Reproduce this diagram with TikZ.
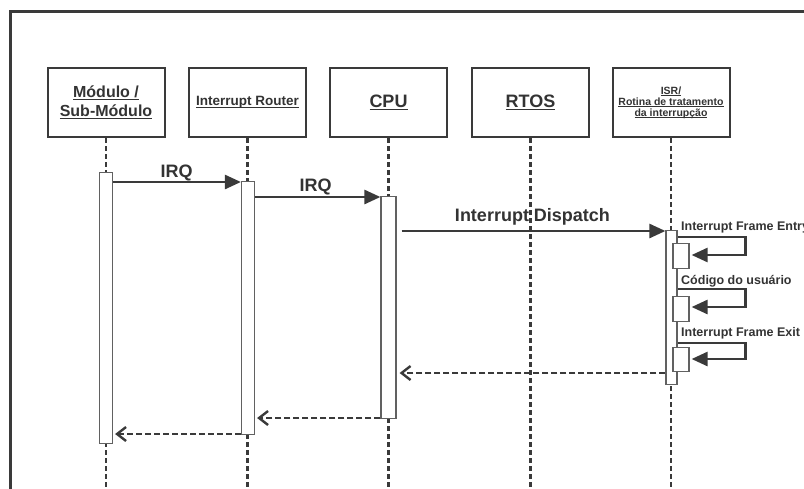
\documentclass[tikz,border=0pt]{standalone}
\usepackage{fontspec}
\setmainfont{Liberation Sans}
\usetikzlibrary{arrows.meta}
\definecolor{ink}{HTML}{3A3A3A}
\definecolor{txt}{HTML}{333333}
% underlined text with a rule a little heavier than \underline
\newcommand\headul[2][2.4pt]{\setbox0\hbox{#2}\leavevmode\rlap{\raisebox{-#1}{\rule{\wd0}{1pt}}}\box0}

\begin{document}
\begin{tikzpicture}[x=1pt,y=-1pt,
  head/.style={draw=ink, line width=2pt, fill=white, minimum width=117pt,
    minimum height=69pt, inner sep=0pt, text=txt, align=center},
  life/.style={draw=ink, line width=2.6pt, dash pattern=on 5pt off 3pt},
  act/.style={draw=ink!80, line width=1.2pt, fill=white, inner sep=0pt,
    minimum width=13pt, anchor=north},
  msg/.style={draw=ink, line width=2.6pt, -{Triangle[length=16pt,width=14pt]}},
  ret/.style={draw=ink, line width=2.4pt, dash pattern=on 6pt off 3pt,
    -{Straight Barb[length=9pt,width=14pt]}},
  lbl/.style={text=txt, inner sep=0pt},
  big/.style={font=\bfseries\fontsize{18}{20}\selectfont},
  mid/.style={font=\bfseries\fontsize{12.5}{14}\selectfont}
]
\useasboundingbox (0,0) rectangle (804,488);
\clip (0,0) rectangle (804,488);
\fill[white] (0,0) rectangle (804,488);

% outer frame (continues past the right and bottom edges)
\draw[ink, line width=2.4pt] (10.5,520) -- (10.5,11.5) -- (830,11.5);

% lifeline heads
\node[head, font=\bfseries\fontsize{16}{19}\selectfont] (mod) at (106,102.5)
  {\headul{Módulo /}\\\headul{Sub-Módulo}};
\node[head, font=\bfseries\fontsize{13.5}{16}\selectfont] (rtr) at (247.5,102.5)
  {\headul{Interrupt Router}};
\node[head, big] (cpu)  at (388.5,102.5) {\headul[2.8pt]{CPU}};
\node[head, big] (rtos) at (530.5,102.5) {\headul[2.8pt]{RTOS}};
\node[head, font=\bfseries\fontsize{10.5}{11}\selectfont] (isr) at (671,102.5)
  {\headul[1.8pt]{ISR/}\\\headul[1.8pt]{Rotina de tratamento}\\\headul[1.8pt]{da interrupção}};

% lifelines
\coordinate (bot) at (0,495);
\foreach \n in {mod,rtr,cpu,rtos,isr}
  \draw[life] (\n.south) -- (\n.south |- bot);

% activation bars
\node[act, minimum height=271pt] (amod) at (106,172) {};
\node[act, minimum height=253pt] (artr) at (248,181) {};
\node[act, minimum height=222pt, minimum width=15pt] (acpu) at (388.5,196) {};
\node[act, minimum height=154pt, minimum width=11pt] (aisr) at (671.5,230) {};
\node[act, minimum height=25pt, minimum width=16pt] (sub1) at (681,243) {};
\node[act, minimum height=25pt, minimum width=16pt] (sub2) at (681,296) {};
\node[act, minimum height=24pt, minimum width=16pt] (sub3) at (681,347) {};

% message levels
\coordinate (m1) at (0,182);
\coordinate (m2) at (0,197);
\coordinate (m3) at (0,231);
\coordinate (e1) at (0,237);
\coordinate (f1) at (0,255);
\coordinate (e2) at (0,289);
\coordinate (f2) at (0,307);
\coordinate (e3) at (0,343);
\coordinate (f3) at (0,359);
\coordinate (r1) at (0,373);
\coordinate (r2) at (0,418);
\coordinate (r3) at (0,434);

% calls
\draw[msg] (amod.east |- m1) -- (artr.west |- m1);
\node[lbl, big] (irq1) at (176.5,173) {IRQ};
\draw[msg] (artr.east |- m2) -- (acpu.west |- m2);
\node[lbl, big] (irq2) at (315.5,187) {IRQ};
\draw[msg] ([xshift=5pt]acpu.east |- m3) -- (aisr.west |- m3);
\node[lbl, big] (disp) at (532.5,217) {Interrupt Dispatch};

% self calls inside the ISR
\draw[msg] (aisr.east |- e1) -- ++(68,0) -- ++(0,18) -- ([xshift=2pt]sub1.east |- f1);
\draw[msg] (aisr.east |- e2) -- ++(68,0) -- ++(0,18) -- ([xshift=2pt]sub2.east |- f2);
\draw[msg] (aisr.east |- e3) -- ++(68,0) -- ++(0,16) -- ([xshift=2pt]sub3.east |- f3);
\node[lbl, mid, anchor=west] (t1) at (681,227) {Interrupt Frame Entry};
\node[lbl, mid, anchor=west] (t2) at (681,281) {Código do usuário};
\node[lbl, mid, anchor=west] (t3) at (681,333) {Interrupt Frame Exit};

% returns
\draw[ret] (aisr.west |- r1) -- ([xshift=3pt]acpu.east |- r1);
\draw[ret] (acpu.west |- r2) -- ([xshift=2pt]artr.east |- r2);
\draw[ret] (artr.west |- r3) -- ([xshift=2pt]amod.east |- r3);
\end{tikzpicture}
\end{document}
